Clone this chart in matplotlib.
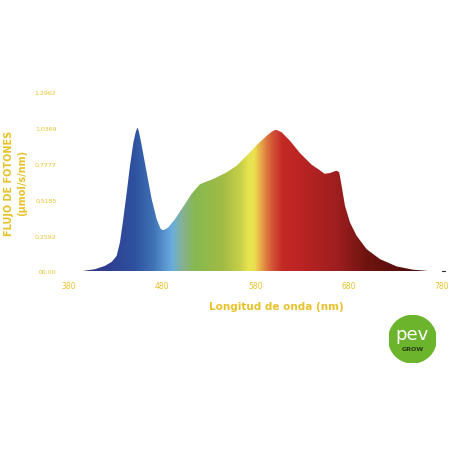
import numpy as np
import matplotlib
matplotlib.use("Agg")
import matplotlib.pyplot as plt
from matplotlib.colors import LinearSegmentedColormap
from matplotlib.patches import Circle

# spectrum (nm, umol/s/nm)
wavelength = [393.6, 407.9, 418.6, 425.8, 431.1, 434.7, 438.2, 441.9, 445.4, 449.0,
              451.5, 453.3, 455.0, 458.0, 463.3, 468.7, 474.0, 478.0, 480.0, 482.5,
              486.5, 493.7, 504.4, 511.5, 520.5, 534.7, 549.1, 559.8, 570.6, 581.3,
              592.0, 598.0, 600.9, 603.5, 608.1, 617.0, 627.7, 640.3, 649.2, 654.0,
              659.9, 664.5, 667.1, 669.9, 672.4, 676.0, 681.3, 688.5, 699.2, 713.5,
              731.4, 749.2, 767.0]
flux = [0.0, 0.014, 0.038, 0.067, 0.11, 0.21, 0.377, 0.57, 0.763, 0.93,
        1.005, 1.041, 1.01, 0.908, 0.715, 0.52, 0.377, 0.31, 0.297, 0.30,
        0.316, 0.377, 0.486, 0.56, 0.63, 0.667, 0.715, 0.763, 0.836, 0.913,
        0.98, 1.012, 1.022, 1.02, 1.005, 0.944, 0.855, 0.77, 0.73, 0.705,
        0.71, 0.722, 0.727, 0.715, 0.618, 0.473, 0.353, 0.256, 0.159, 0.087,
        0.034, 0.01, 0.0]

y_ticks = [0.0, 0.2592, 0.5185, 0.7777, 1.0369, 1.2962]
y_labels = ["00,00", "0,2592", "0,5185", "0,7777", "1,0369", "1,2962"]
x_ticks = [380, 480, 580, 680, 780]

# colour stops along the spectrum
stop_nm = [380, 420, 450, 470, 490, 502, 515, 545, 564, 573, 579, 585, 592, 600, 609,
           628, 670, 700, 780]
stop_col = ["#3a2f80", "#2e3f8e", "#2f52a0", "#3f72b5", "#6aacdf", "#86b28e", "#86b850",
            "#a2bc45", "#c8d048", "#e8e450", "#ece052", "#e8b048", "#dc7840", "#d04c34",
            "#c42a26", "#bc2424", "#9c1e1e", "#6e1410", "#3c0806"]

gold = "#e8c22a"

fig = plt.figure(figsize=(4.52, 4.52), dpi=100)
ax = fig.add_axes([0.1527, 0.398, 0.825, 0.396])

x = np.linspace(380, 780, 800)
y = np.interp(x, wavelength, flux)

cmap = LinearSegmentedColormap.from_list(
    "spec", [((n - 380) / 400, c) for n, c in zip(stop_nm, stop_col)])
grad = np.linspace(0, 1, 800).reshape(1, -1)
img = ax.imshow(grad, cmap=cmap, aspect="auto", extent=[380, 780, 0, 1.2962],
                origin="lower", zorder=1)
poly = ax.fill_between(x, 0, y, color="none", lw=0)
clip = poly.get_paths()[0]
img.set_clip_path(clip, transform=ax.transData)

ax.set_xlim(380, 780)
ax.set_ylim(0, 1.2962)
ax.set_xticks(x_ticks)
ax.set_xticklabels([str(t) for t in x_ticks])
ax.set_yticks(y_ticks)
ax.set_yticklabels(y_labels)
ax.tick_params(axis="x", length=0, pad=7, labelsize=5.5, labelcolor=gold)
ax.tick_params(axis="y", length=0, pad=9, labelsize=4.5, labelcolor=gold)
for s in ax.spines.values():
    s.set_visible(False)
ax.plot([780, 783], [0, 0], color="#333333", lw=0.8, clip_on=False)

fig.text(0.612, 0.32, "Longitud de onda (nm)", ha="center", va="center",
         fontsize=7.5, fontweight="bold", color=gold)
fig.text(0.02, 0.595, "FLUJO DE FOTONES", rotation=90, ha="center", va="center",
         fontsize=7, fontweight="bold", color=gold)
fig.text(0.05, 0.595, "(\u03bcmol/s/nm)", rotation=90, ha="center", va="center",
         fontsize=7, fontweight="bold", color=gold)

# logo
lax = fig.add_axes([0.86, 0.195, 0.105, 0.105])
lax.set_xlim(-1, 1)
lax.set_ylim(-1, 1)
lax.set_aspect("equal")
lax.axis("off")
lax.add_patch(Circle((0, 0), 1, color="#6cb42c"))
lax.text(0, 0.22, "pev", ha="center", va="center", fontsize=13, color="white",
         family="DejaVu Sans")
lax.text(0, -0.4, "GROW", ha="center", va="center", fontsize=4.5, fontweight="bold",
         color="#2a3a1a")

fig.savefig("out.png", dpi=100, facecolor="white")
